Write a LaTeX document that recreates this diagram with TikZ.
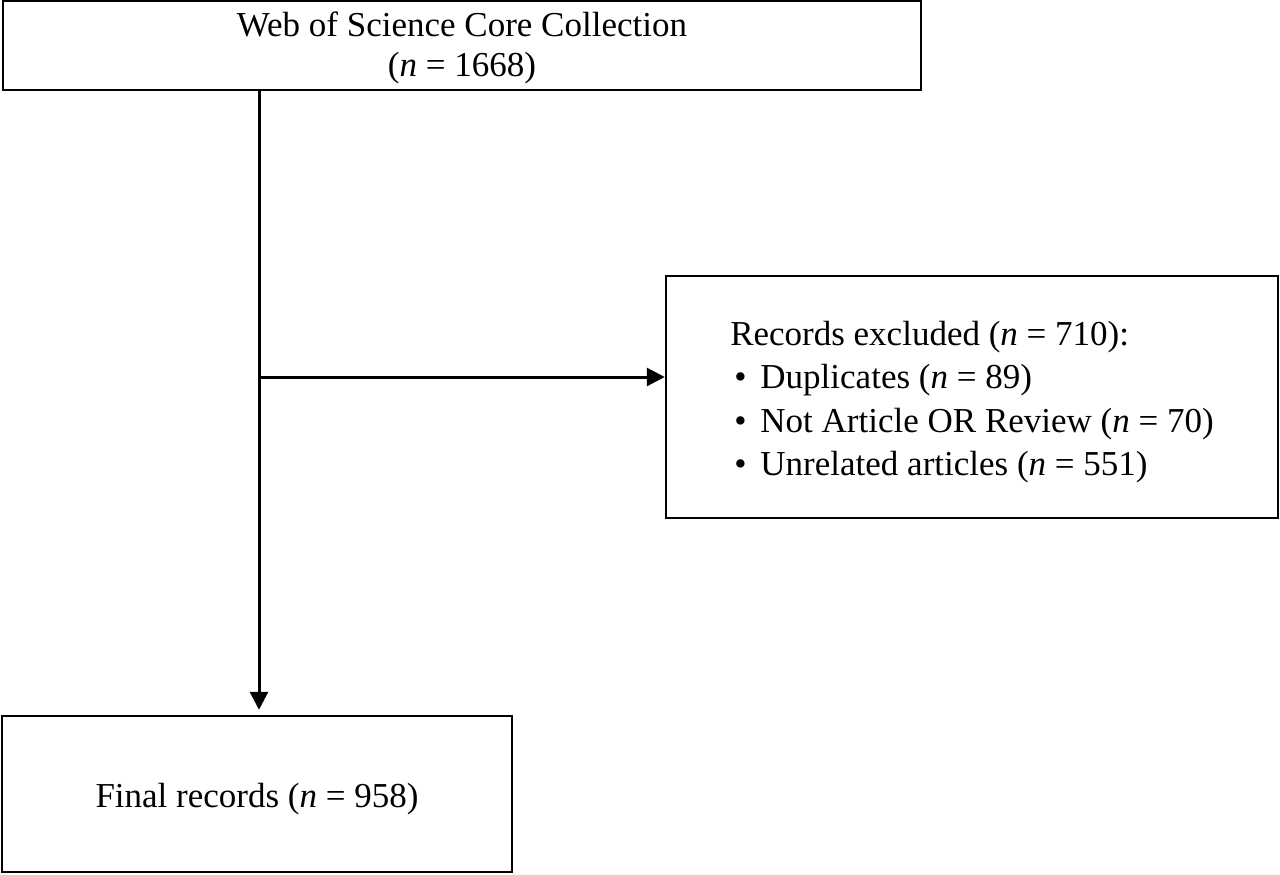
\documentclass[tikz,border=0pt]{standalone}
\usepackage{fontspec}
\setmainfont{Liberation Serif}
\usetikzlibrary{arrows.meta}
\begin{document}
\begin{tikzpicture}[x=0.5pt,y=-0.5pt,
  box/.style={draw, line width=1.25pt, inner sep=0pt},
  txt/.style={inner sep=0pt, font=\fontsize{17.5}{20}\selectfont},
  arr/.style={line width=1.5pt, -{Triangle[length=9pt,width=9pt]}}]
\useasboundingbox (0,0) rectangle (1280,874);
\node[box, minimum width=459pt, minimum height=44.5pt] (top) at (462,45.5) {};
\node[txt, align=center, yshift=-1pt] (toptext) at (top.center)
  {Web of Science Core Collection\\(\textit{n} = 1668)};
\node[box, minimum width=306pt, minimum height=121pt] (excl) at (972,397) {};
\node[txt, align=left, yshift=-2.5pt, font=\fontsize{17.5}{21.6}\selectfont] (excltext) at (excl.center)
  {Records excluded (\textit{n} = 710):\\
   \hspace{2pt}\textbullet\hspace{7pt}Duplicates (\textit{n} = 89)\\
   \hspace{2pt}\textbullet\hspace{7pt}Not Article OR Review (\textit{n} = 70)\\
   \hspace{2pt}\textbullet\hspace{7pt}Unrelated articles (\textit{n} = 551)};
\node[box, minimum width=255pt, minimum height=78pt] (final) at (257,794) {};
\node[txt, yshift=-2.5pt] (finaltext) at (final.center) {Final records (\textit{n} = 958)};
\coordinate (j) at (259,377);
\draw[arr, shorten >=2.5pt] (top.south -| j) -- (j |- final.north);
\draw[arr] (j) -- (j -| excl.west);
\end{tikzpicture}
\end{document}
